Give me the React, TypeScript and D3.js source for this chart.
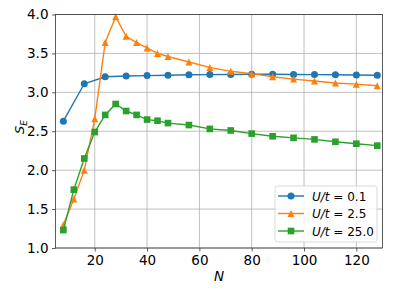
import { useRef, useEffect } from "react";
import * as d3 from "d3";

// N values
const nBlue = [8, 16, 24, 32, 40, 48, 56, 64, 72, 80, 88, 96, 104, 112, 120, 128];
const nDense = [8, 12, 16, 20, 24, 28, 32, 36, 40, 44, 48, 56, 64, 72, 80, 88, 96, 104, 112, 120, 128];

// S_E values
const seU01 = [2.63, 3.11, 3.2, 3.21, 3.215, 3.22, 3.225, 3.228, 3.23, 3.232, 3.232, 3.23, 3.228, 3.225, 3.222, 3.22];
const seU25 = [1.3, 1.63, 2.0, 2.66, 3.64, 3.97, 3.72, 3.64, 3.57, 3.5, 3.46, 3.39, 3.32, 3.27, 3.24, 3.2, 3.17, 3.145, 3.12, 3.105, 3.085];
const seU250 = [1.23, 1.75, 2.15, 2.49, 2.71, 2.85, 2.76, 2.71, 2.65, 2.635, 2.605, 2.58, 2.53, 2.51, 2.47, 2.435, 2.415, 2.395, 2.365, 2.34, 2.315];

const xTicks = [20, 40, 60, 80, 100, 120];
const yTicks = [1.0, 1.5, 2.0, 2.5, 3.0, 3.5, 4.0];

const seriesLabels = ["0.1", "2.5", "25.0"];
const seriesColors = ["#1f77b4", "#ff7f0e", "#2ca02c"];
const seriesMarkers = ["circle", "triangle", "square"];

export default function App() {
	const ref = useRef<HTMLDivElement>(null);

	useEffect(() => {
		document.body.style.margin = "0";
		const width = 394;
		const height = 296;
		const margin = { top: 14.5, right: 11.5, bottom: 48, left: 55.5 };
		const font = "DejaVu Sans, sans-serif";

		d3.select(ref.current).selectAll("*").remove();

		const svg = d3
			.select(ref.current)
			.append("svg")
			.attr("width", width)
			.attr("height", height)
			.style("display", "block")
			.style("background", "#fff");

		const x = d3.scaleLinear().domain([5, 130]).range([margin.left, width - margin.right]);
		const y = d3.scaleLinear().domain([1, 4]).range([height - margin.bottom, margin.top]);

		// ---- Grid ----
		svg.append("g")
			.selectAll("line")
			.data(xTicks)
			.enter()
			.append("line")
			.attr("x1", (d) => x(d))
			.attr("x2", (d) => x(d))
			.attr("y1", y(1))
			.attr("y2", y(4))
			.attr("stroke", "#b0b0b0")
			.attr("stroke-width", 0.8);

		svg.append("g")
			.selectAll("line")
			.data(yTicks)
			.enter()
			.append("line")
			.attr("x1", x(5))
			.attr("x2", x(130))
			.attr("y1", (d) => y(d))
			.attr("y2", (d) => y(d))
			.attr("stroke", "#b0b0b0")
			.attr("stroke-width", 0.8);

		// ---- Series ----
		const series = [
			{ n: nBlue, v: seU01 },
			{ n: nDense, v: seU25 },
			{ n: nDense, v: seU250 },
		];

		const markerPath = (kind: string, s: number) => {
			if (kind === "circle") return d3.symbol(d3.symbolCircle, Math.PI * (s / 2) ** 2)();
			if (kind === "square") return d3.symbol(d3.symbolSquare, s * s * 0.9)();
			const h = s / 2;
			return `M0,${-h}L${h},${h}L${-h},${h}Z`;
		};

		const plot = svg.append("g");
		series.forEach((s, i) => {
			const pts = s.n.map((n, j) => [n, s.v[j]] as [number, number]);
			const line = d3
				.line<[number, number]>()
				.x((d) => x(d[0]))
				.y((d) => y(d[1]));
			plot.append("path")
				.attr("d", line(pts))
				.attr("fill", "none")
				.attr("stroke", seriesColors[i])
				.attr("stroke-width", 1.4);
			plot.append("g")
				.selectAll("path")
				.data(pts)
				.enter()
				.append("path")
				.attr("transform", (d) => `translate(${x(d[0])},${y(d[1])})`)
				.attr("d", markerPath(seriesMarkers[i], 7))
				.attr("fill", seriesColors[i]);
		});

		// ---- Axes ----
		const xAxis = svg
			.append("g")
			.attr("transform", `translate(0,${height - margin.bottom})`)
			.call(d3.axisBottom(x).tickValues(xTicks).tickSize(3.5).tickPadding(4).tickFormat(d3.format("d")));
		const yAxis = svg
			.append("g")
			.attr("transform", `translate(${margin.left},0)`)
			.call(d3.axisLeft(y).tickValues(yTicks).tickSize(3.5).tickPadding(3.5).tickFormat(d3.format(".1f")));

		[xAxis, yAxis].forEach((a) => {
			a.select(".domain").remove();
			a.selectAll("line").attr("stroke", "#333").attr("stroke-width", 0.8);
			a.selectAll("text").attr("fill", "#000").style("font-family", font).style("font-size", "13.5px");
		});

		// spines
		svg.append("rect")
			.attr("x", x(5))
			.attr("y", y(4))
			.attr("width", x(130) - x(5))
			.attr("height", y(1) - y(4))
			.attr("fill", "none")
			.attr("stroke", "#333")
			.attr("stroke-width", 0.8);

		// ---- Axis labels ----
		svg.append("text")
			.attr("x", (x(5) + x(130)) / 2)
			.attr("y", 281)
			.attr("text-anchor", "middle")
			.style("font-family", font)
			.style("font-size", "13.5px")
			.style("font-style", "italic")
			.text("N");

		const yl = svg
			.append("text")
			.attr("transform", `translate(24,127) rotate(-90)`)
			.attr("text-anchor", "middle")
			.style("font-family", font)
			.style("font-size", "13px")
			.style("font-style", "italic");
		yl.append("tspan").text("S");
		yl.append("tspan").attr("dy", 3).style("font-size", "9px").text("E");

		// ---- Legend ----
		const lg = svg.append("g").attr("transform", "translate(275,186)");
		lg.append("rect")
			.attr("width", 102)
			.attr("height", 56)
			.attr("rx", 2.5)
			.attr("fill", "#fff")
			.attr("fill-opacity", 0.8)
			.attr("stroke", "#d0d0d0")
			.attr("stroke-width", 0.8);

		seriesLabels.forEach((lab, i) => {
			const ry = 10 + i * 17.5;
			lg.append("line")
				.attr("x1", 3)
				.attr("x2", 29)
				.attr("y1", ry)
				.attr("y2", ry)
				.attr("stroke", seriesColors[i])
				.attr("stroke-width", 1.4);
			lg.append("path")
				.attr("transform", `translate(16,${ry})`)
				.attr("d", markerPath(seriesMarkers[i], 7))
				.attr("fill", seriesColors[i]);
			const t = lg
				.append("text")
				.attr("x", 37)
				.attr("y", ry + 4.5)
				.style("font-family", font)
				.style("font-size", "12px");
			t.append("tspan").style("font-style", "italic").text("U/t");
			t.append("tspan").text(` = ${lab}`);
		});
	}, []);

	return <div ref={ref} style={{ position: "relative" }} />;
}
